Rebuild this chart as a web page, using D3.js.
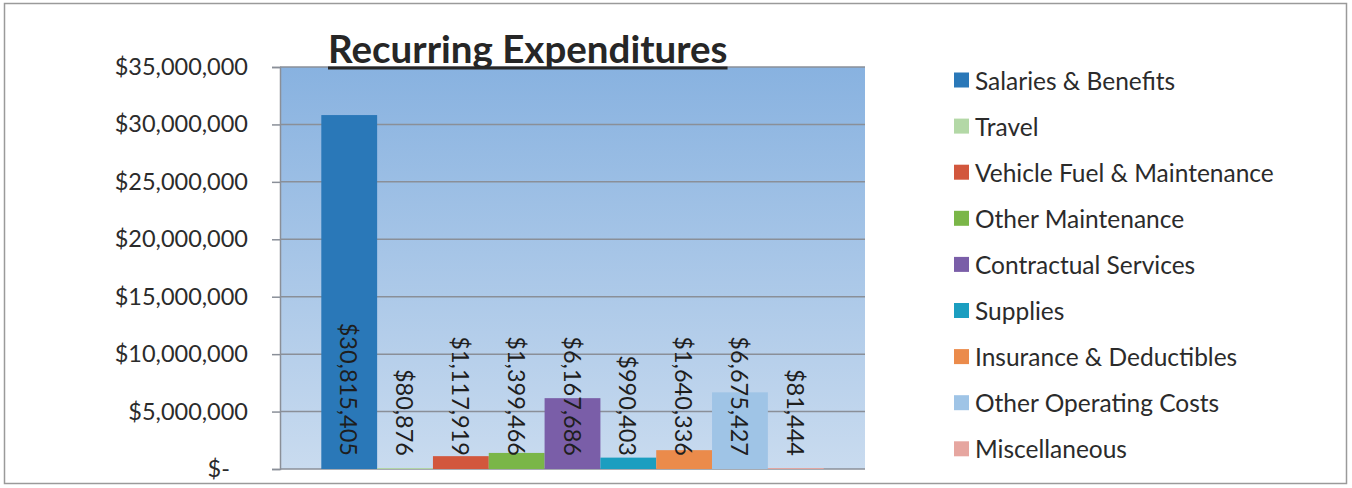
<!DOCTYPE html>
<html>
<head>
<meta charset="utf-8">
<script src="https://cdn.jsdelivr.net/npm/d3@7"></script>
<style>
body { margin:0; background:#fff; }
svg text { font-family: Lato, "Open Sans", sans-serif; }
</style>
</head>
<body>
<svg width="1352" height="488"></svg>
<script>
var categories = ["Salaries & Benefits","Travel","Vehicle Fuel & Maintenance","Other Maintenance",
    "Contractual Services","Supplies","Insurance & Deductibles","Other Operating Costs","Miscellaneous"]
var amounts = [30815405,80876,1117919,1399466,6167686,990403,1640336,6675427,81444]
var yTicks = [0,5000000,10000000,15000000,20000000,25000000,30000000,35000000]
var colors = ["#2a78b8","#b3d8a6","#d2573d","#7ab648","#7a5ea8","#1b9ec0","#eb8b4b","#9fc4e6","#e6a6a0"]

var plot = {left:280,top:67,right:865,bottom:469}

var svg = d3.select("svg")

// outer frame
svg.append("rect")
    .attr("x",4.5).attr("y",3.5)
    .attr("width",1342).attr("height",480)
    .attr("fill","#fff")
    .attr("stroke","#9a9a9a")
    .attr("stroke-width",1.5)

var grad = svg.append("defs").append("linearGradient")
    .attr("id","bg").attr("x1",0).attr("y1",0).attr("x2",0).attr("y2",1)
grad.append("stop").attr("offset","0%").attr("stop-color","#88b2e0")
grad.append("stop").attr("offset","100%").attr("stop-color","#c9dbef")

var xScale = d3.scaleBand()
    .domain(categories)
    .range([plot.left,plot.right])
    .paddingInner(0)
    .paddingOuter(0.74)

var yScale = d3.scaleLinear()
    .domain([0,35000000])
    .range([plot.bottom,plot.top])

svg.append("rect")
    .attr("x",plot.left).attr("y",plot.top)
    .attr("width",plot.right-plot.left).attr("height",plot.bottom-plot.top)
    .attr("fill","url(#bg)")

// gridlines
svg.append("g").selectAll("line")
    .data(yTicks)
    .enter()
    .append("line")
    .attr("x1",plot.left).attr("x2",plot.right)
    .attr("y1",function(d){return yScale(d)})
    .attr("y2",function(d){return yScale(d)})
    .attr("stroke","#8a8f98")
    .attr("stroke-width",1.5)

var yAxis = d3.axisLeft(yScale)
    .tickValues(yTicks)
    .tickSize(8)
    .tickPadding(24)
    .tickFormat(function(d){
        return d == 0 ? "$-\u00a0\u00a0\u00a0" : "$" + d3.format(",")(d)
    })

var gy = svg.append("g")
    .attr("transform","translate("+plot.left+",0)")
    .call(yAxis)
gy.select(".domain").attr("stroke","#8a8f98").attr("stroke-width",1.5)
gy.selectAll(".tick line").attr("stroke","#8a8f98").attr("stroke-width",1.5)
gy.selectAll("text")
    .attr("font-size","23.5px")
    .attr("fill","#2b2b2b")

// bars
svg.append("g").selectAll("rect")
    .data(amounts)
    .enter()
    .append("rect")
    .attr("x",function(d,i){return xScale(categories[i])})
    .attr("y",function(d){return yScale(d)})
    .attr("width",xScale.bandwidth())
    .attr("height",function(d){return yScale(0)-yScale(d)})
    .attr("fill",function(d,i){return colors[i]})

// value labels, reading downwards
svg.append("g").selectAll("text")
    .data(amounts)
    .enter()
    .append("text")
    .attr("transform",function(d,i){
        return "translate("+(xScale(categories[i])+xScale.bandwidth()/2)+","+(yScale(0)-13)+") rotate(90)"
    })
    .attr("text-anchor","end")
    .attr("dominant-baseline","central")
    .attr("font-size","23.5px")
    .attr("fill","#1e1e1e")
    .text(function(d){return "$" + d3.format(",")(d)})

// title
var title = svg.append("text")
    .attr("x",328).attr("y",63)
    .attr("font-size","38.5px")
    .attr("font-weight","bold")
    .attr("fill","#262626")
    .text("Recurring Expenditures")
var tw = title.node().getComputedTextLength()
svg.append("rect")
    .attr("x",328).attr("y",66.5)
    .attr("width",tw).attr("height",3)
    .attr("fill","#262626")

// legend
var legend = svg.append("g").selectAll("g")
    .data(categories)
    .enter()
    .append("g")
    .attr("transform",function(d,i){return "translate(954,"+(80+i*46.1)+")"})
legend.append("rect")
    .attr("x",0).attr("y",-7.5)
    .attr("width",15).attr("height",15)
    .attr("fill",function(d,i){return colors[i]})
legend.append("text")
    .attr("x",21).attr("y",0)
    .attr("dominant-baseline","central")
    .attr("font-size","24.5px")
    .attr("fill","#2b2b2b")
    .text(function(d){return d})
</script>
</body>
</html>
